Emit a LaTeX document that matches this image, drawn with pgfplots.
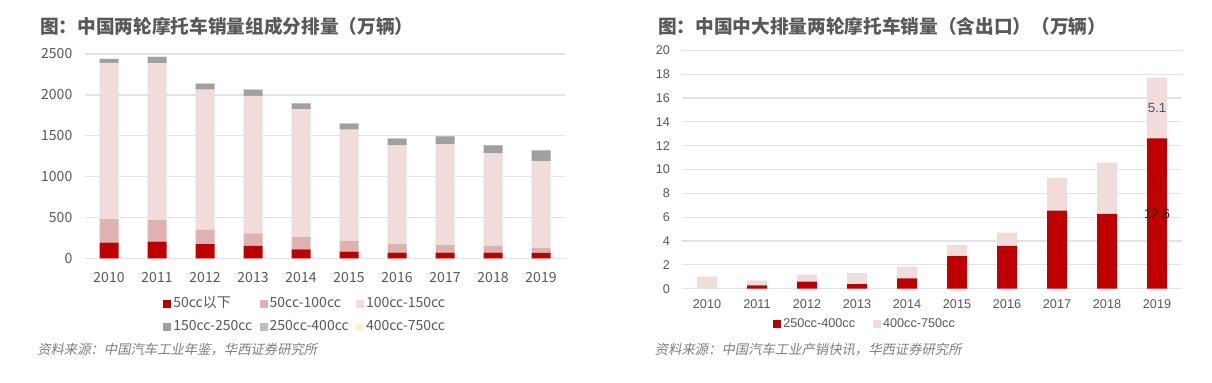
\documentclass[border=0pt]{standalone}
\usepackage{fontspec}
\setmainfont{Liberation Sans}
\newfontfamily\cjk{Noto Sans CJK SC}
\newfontfamily\cjkit[FakeSlant=0.2]{Noto Sans CJK SC}
\usepackage{pgfplots}
\pgfplotsset{compat=1.18}
\usepackage{pgfplotstable}
\definecolor{cR}{HTML}{C00000}
\definecolor{cP}{HTML}{E0B1B1}
\definecolor{cL}{HTML}{F2DCDB}
\definecolor{cG}{HTML}{A0A0A0}
\definecolor{cG2}{HTML}{BFBFBF}
\definecolor{cY}{HTML}{FFF2CC}
\definecolor{gridc}{HTML}{E3E3E3}
\definecolor{tickc}{HTML}{595959}
\definecolor{titlec}{HTML}{595959}
\definecolor{srcc}{HTML}{7F7F7F}
\definecolor{lblA}{HTML}{44546A}
\definecolor{lblB}{HTML}{262626}

\pgfplotstableread{
x r50 p100 l150 g250 g400 y750
0 192 286 1913 50 0 1.0
1 204 266 1917 77 0.28 0.42
2 172 179 1713 73 0.59 0.58
3 151 155 1680 78 0.39 0.92
4 110 156 1557 73 0.87 0.98
5 82 130 1361 74 2.74 0.92
6 69 111 1201 82 3.58 1.12
7 69 99 1230 94 6.54 2.75
8 69 82 1132 94 6.27 4.30
9 65 62 1062 123 12.6 5.1
}\lefttab

\pgfplotsset{
  sqlegend/.style={legend image code/.code={\path[##1, draw=none] (0pt,-3pt) rectangle (6pt,3pt);}},
}

\begin{document}
\begin{tikzpicture}
\useasboundingbox (0,0) rectangle (909pt,286.5pt);
\fill[white] (0,0) rectangle (909pt,286.5pt);
% titles
\node[anchor=west, inner sep=0, text=titlec, font=\cjk\bfseries\fontsize{14}{16}\selectfont] at (30pt,267pt) {图：中国两轮摩托车销量组成分排量（万辆）};
\node[anchor=west, inner sep=0, text=titlec, font=\cjk\bfseries\fontsize{14}{16}\selectfont] at (493.5pt,267pt) {图：中国中大排量两轮摩托车销量（含出口）（万辆）};
% sources
\node[anchor=west, inner sep=0, text=srcc, font=\cjkit\fontsize{10}{12}\selectfont] at (27.75pt,24pt) {资料来源：中国汽车工业年鉴，华西证券研究所};
\node[anchor=west, inner sep=0, text=srcc, font=\cjkit\fontsize{10}{12}\selectfont] at (491pt,24pt) {资料来源：中国汽车工业产销快讯，华西证券研究所};

\begin{axis}[
  at={(63.75pt,92.8pt)}, anchor=south west,
  scale only axis, width=360pt, height=153.2pt,
  ybar stacked, bar width=14.25pt,
  xmin=-0.5, xmax=9.5, ymin=0, ymax=2500,
  ytick={0,500,...,2500},
  xtick={0,...,9},
  xticklabels={2010,2011,2012,2013,2014,2015,2016,2017,2018,2019},
  ymajorgrids, grid style={color=gridc, line width=1.1pt},
  axis line style={draw=none}, major tick length=0pt,
  /pgf/number format/assume math mode=true,
  /pgf/number format/1000 sep={},
  tick label style={font=\cjk\fontsize{10.5}{12}\selectfont, text=tickc},
  yticklabel style={xshift=-6pt},
  xticklabel style={yshift=-7pt},
  sqlegend,
  legend columns=3,
  legend cell align=left,
  legend style={draw=none, fill=none, inner sep=0pt,
    at={(0.1625,-0.18)}, anchor=north west,
    font=\cjk\fontsize{10.5}{12}\selectfont, text=tickc,
    nodes={text height=8pt, text depth=2.5pt, inner sep=1.5pt},
    row sep=3.25pt,
    /tikz/every even column/.append style={column sep=4pt}},
]
\addplot[fill=cR, draw=none] table[x=x,y=r50]{\lefttab};
\addlegendentry{50cc以下}
\addplot[fill=cP, draw=none] table[x=x,y=p100]{\lefttab};
\addlegendentry{50cc-100cc}
\addplot[fill=cL, draw=none] table[x=x,y=l150]{\lefttab};
\addlegendentry{100cc-150cc}
\addplot[fill=cG, draw=none] table[x=x,y=g250]{\lefttab};
\addlegendentry{150cc-250cc}
\addplot[fill=cG2, draw=none] table[x=x,y=g400]{\lefttab};
\addlegendentry{250cc-400cc}
\addplot[fill=cY, draw=none] table[x=x,y=y750]{\lefttab};
\addlegendentry{400cc-750cc}
\end{axis}

\begin{axis}[
  at={(511.5pt,70pt)}, anchor=south west,
  scale only axis, width=375pt, height=178.8pt,
  ybar stacked, bar width=15pt,
  xmin=-0.5, xmax=9.5, ymin=0, ymax=20,
  ytick={0,2,...,20},
  xtick={0,...,9},
  xticklabels={2010,2011,2012,2013,2014,2015,2016,2017,2018,2019},
  ymajorgrids, grid style={color=gridc, line width=0.9pt},
  axis line style={draw=none}, major tick length=0pt,
  /pgf/number format/assume math mode=true,
  tick label style={font=\fontsize{9.5}{11}\selectfont, text=tickc},
  yticklabel style={xshift=-5.5pt},
  xticklabel style={yshift=-5pt},
  sqlegend,
  legend columns=2,
  legend style={draw=none, fill=none, inner sep=0pt,
    at={(0.182,-0.115)}, anchor=north west,
    font=\fontsize{9.5}{11}\selectfont, text=tickc,
    nodes={inner sep=1.5pt},
    /tikz/every even column/.append style={column sep=12pt}},
]
\addplot[fill=cR, draw=none, nodes near coords, point meta=explicit symbolic,
  every node near coord/.style={anchor=center, text=lblB, font=\fontsize{10}{12}\selectfont}]
  coordinates {(0,0)[] (1,0.28)[] (2,0.59)[] (3,0.39)[] (4,0.87)[] (5,2.74)[] (6,3.58)[] (7,6.54)[] (8,6.27)[] (9,12.6)[12.6]};
\addlegendentry{250cc-400cc}
\addplot[fill=cL, draw=none, nodes near coords, point meta=explicit symbolic,
  every node near coord/.style={anchor=center, text=lblA, font=\fontsize{10}{12}\selectfont}]
  coordinates {(0,1.0)[] (1,0.42)[] (2,0.58)[] (3,0.92)[] (4,0.98)[] (5,0.92)[] (6,1.12)[] (7,2.75)[] (8,4.30)[] (9,5.1)[5.1]};
\addlegendentry{400cc-750cc}
\end{axis}
\end{tikzpicture}
\end{document}
